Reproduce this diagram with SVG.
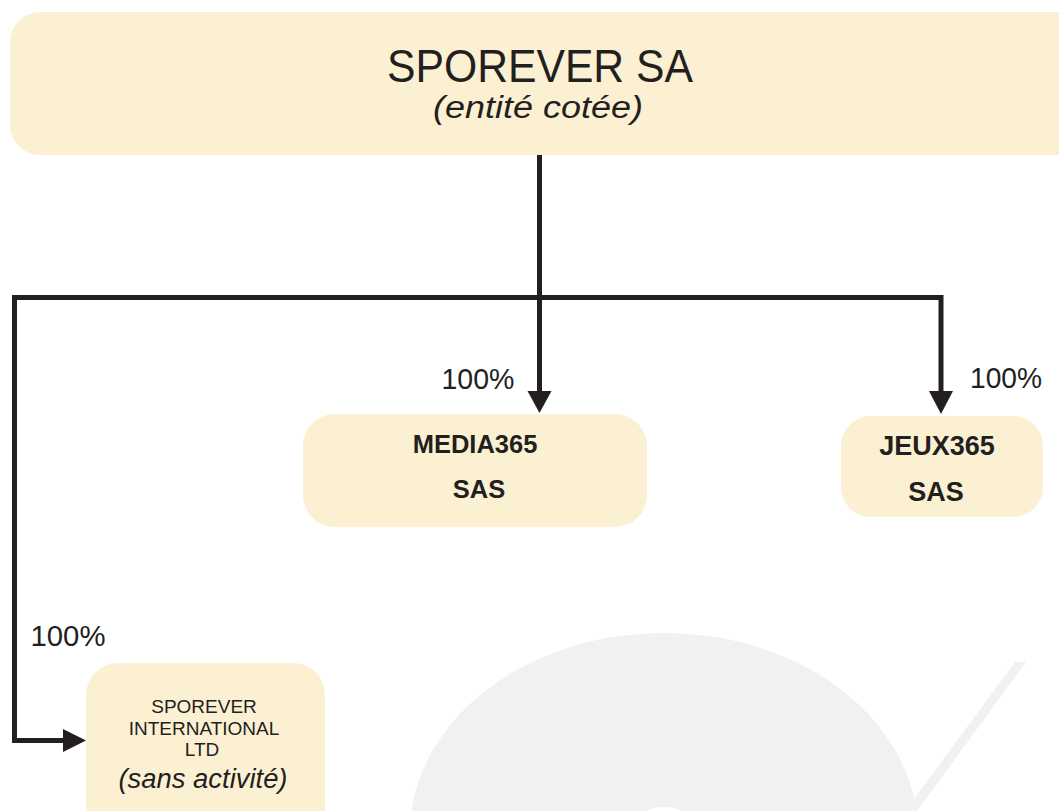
<svg xmlns="http://www.w3.org/2000/svg" width="1059" height="811" viewBox="0 0 1059 811">
<style>
.box{fill:#fcf0d3;}
.t{font-family:"Liberation Sans",Arial,sans-serif;fill:#231f20;text-anchor:middle;}
.b{font-weight:bold;}
.i{font-style:italic;}
.wm{fill:#f0f1f3;}
.ln{fill:none;stroke:#231f20;stroke-width:5;stroke-linejoin:miter;}
.ah{fill:#231f20;}
</style>
<rect width="1059" height="811" fill="#ffffff"/>
<g id="watermark">
<ellipse class="wm" cx="664" cy="833" rx="254" ry="200"/>
<ellipse cx="664" cy="851" rx="46" ry="44" fill="#ffffff"/>
<polygon class="wm" points="1015,662 1026,662 917,811 905,811"/>
</g>
<g id="connectors">
<path class="ln" d="M539.5,155 V393"/>
<path class="ln" d="M941,393 V297.5 H14.5 V740.5 H65"/>
<polygon class="ah" points="527.5,391 551.5,391 539.5,413"/>
<polygon class="ah" points="929,391 953,391 941,414"/>
<polygon class="ah" points="63,729 63,752 86,740.5"/>
<text class="t" x="478" y="389" font-size="30" textLength="73" lengthAdjust="spacingAndGlyphs">100%</text>
<text class="t" x="1006" y="388" font-size="30" textLength="72" lengthAdjust="spacingAndGlyphs">100%</text>
<text class="t" x="68" y="646" font-size="29" textLength="75" lengthAdjust="spacingAndGlyphs">100%</text>
</g>
<g id="sporever-sa">
<rect class="box" x="10" y="12" width="1100" height="143" rx="30"/>
<text class="t" x="540" y="82" font-size="47" textLength="306" lengthAdjust="spacingAndGlyphs">SPOREVER SA</text>
<text class="t i" x="538" y="118" font-size="31" textLength="210" lengthAdjust="spacingAndGlyphs">(entité cotée)</text>
</g>
<g id="media365">
<rect class="box" x="303" y="414" width="344" height="113" rx="32"/>
<text class="t b" x="475" y="453" font-size="25.5">MEDIA365</text>
<text class="t b" x="479" y="498" font-size="25.5">SAS</text>
</g>
<g id="jeux365">
<rect class="box" x="841" y="416" width="202" height="101" rx="30"/>
<text class="t b" x="937" y="455" font-size="27">JEUX365</text>
<text class="t b" x="936" y="501" font-size="27">SAS</text>
</g>
<g id="sporever-international">
<rect class="box" x="86" y="663" width="239" height="200" rx="32"/>
<text class="t" x="204" y="713" font-size="19">SPOREVER</text>
<text class="t" x="204" y="735" font-size="19">INTERNATIONAL</text>
<text class="t" x="202" y="756" font-size="19">LTD</text>
<text class="t i" x="203" y="788" font-size="27" textLength="169" lengthAdjust="spacingAndGlyphs">(sans activité)</text>
</g>
</svg>
